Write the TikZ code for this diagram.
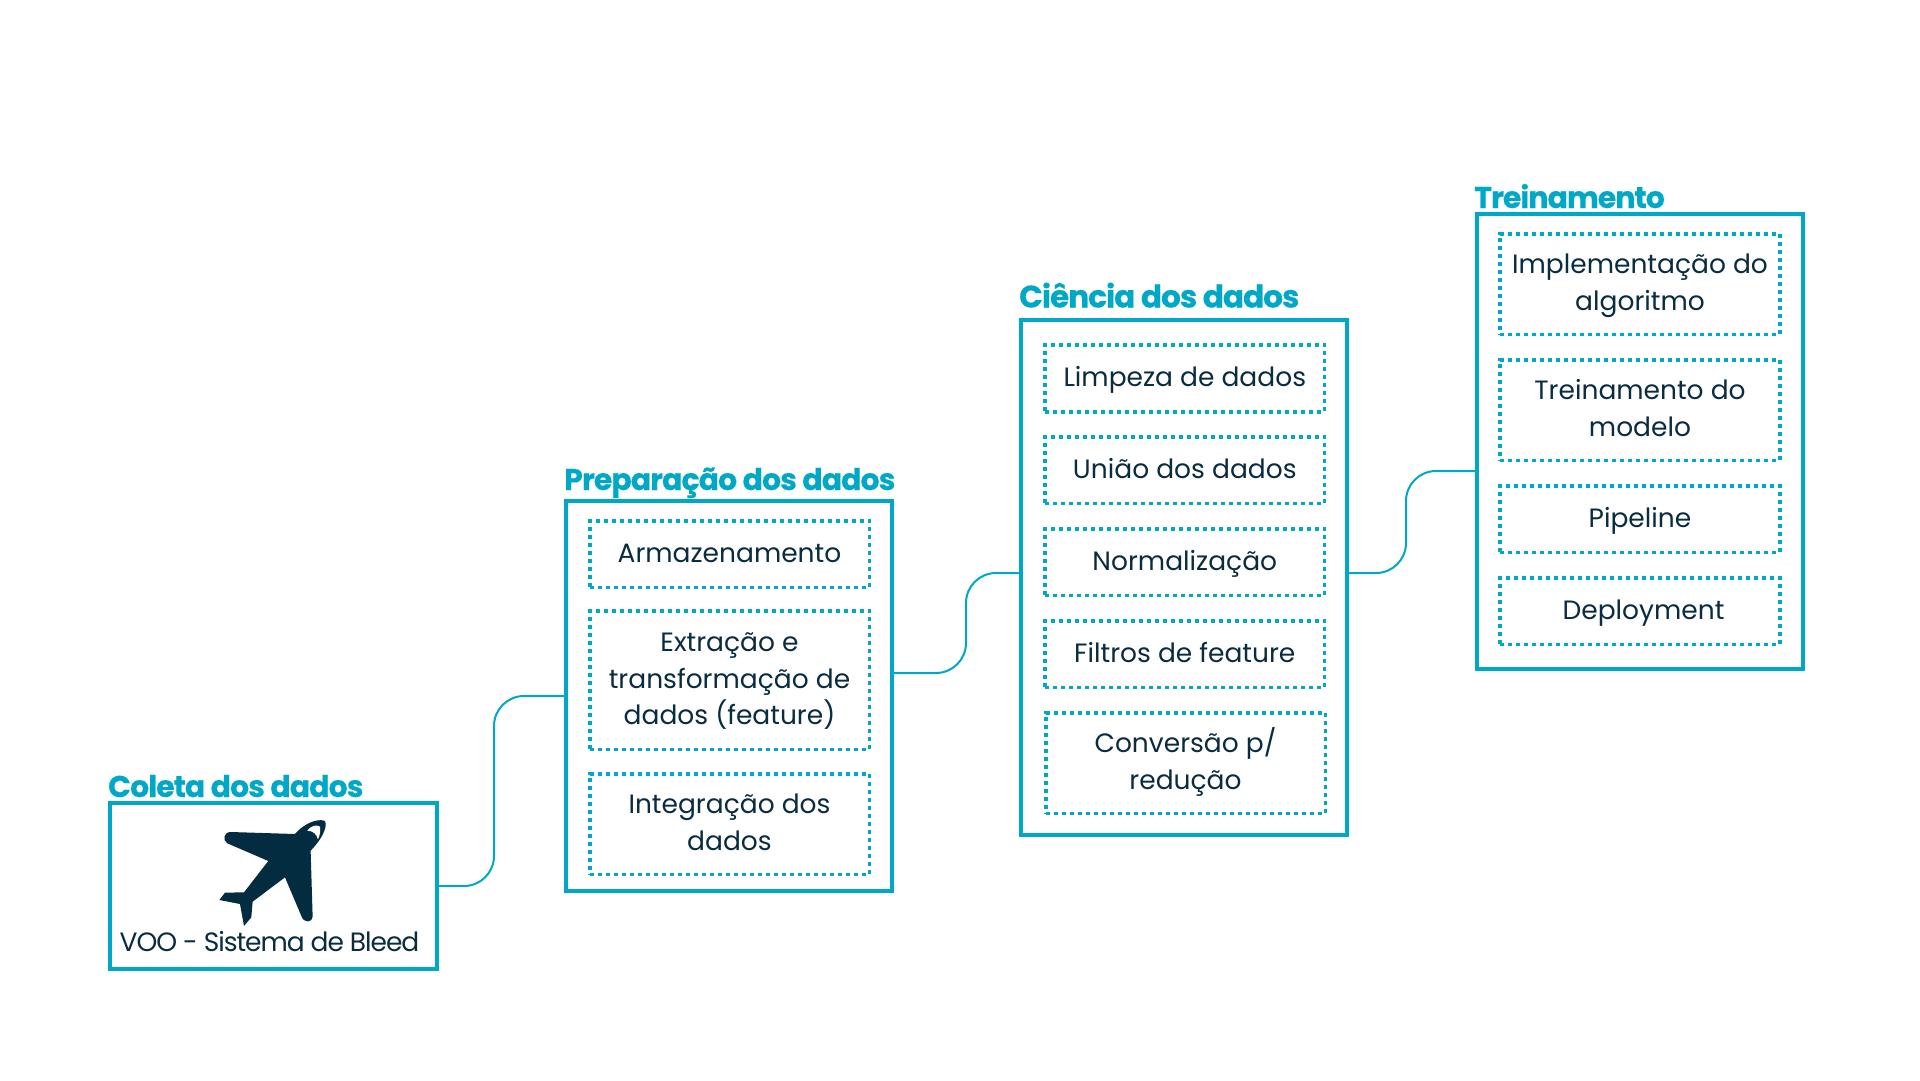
\documentclass[tikz,border=0pt]{standalone}
\usepackage{fontspec}
\setmainfont{Poppins}
\newfontfamily\titlefont[LetterSpace=-3.2,FakeBold=0.25]{Poppins Bold}
\newfontfamily\tightfont[LetterSpace=-4]{Poppins}
\newcommand{\ls}{\rule[-10.35pt]{0pt}{36.7pt}}
\definecolor{teal1}{HTML}{00A8C8}
\definecolor{ink}{HTML}{0A2C40}
\definecolor{planeink}{HTML}{042C40}
\tikzset{
  x=1pt,y=-1pt,
  frame/.style={draw=teal1,line width=4pt,fill=white,inner sep=0pt},
  inbox/.style={draw=teal1,line width=3.6pt,dash pattern=on 4pt off 4pt,inner sep=0pt,
    minimum width=279.6pt,align=center,text=ink,font=\fontsize{26.5}{36.7}\selectfont},
  grouptitle/.style={anchor=base west,inner sep=0pt,text=teal1,font=\titlefont\fontsize{30}{36}\selectfont},
  conn/.style={draw=teal1,line width=2pt,rounded corners=30pt},
}
\begin{document}
\begin{tikzpicture}
\useasboundingbox (0,0) rectangle (1920,1080);
\fill[white] (0,0) rectangle (1920,1080);
% frames
\node[frame,minimum width=327pt,minimum height=166pt] (b1) at (273.5,886) {};
\node[frame,minimum width=326pt,minimum height=390.5pt] (b2) at (729,696) {};
\node[frame,minimum width=326pt,minimum height=515pt] (b3) at (1184,577.5) {};
\node[frame,minimum width=326pt,minimum height=455pt] (b4) at (1639.5,441.5) {};
% titles
\node[grouptitle] (t1) at (108,797) {Coleta dos dados};
\node[grouptitle] (t2) at (564,490) {Preparação dos dados};
\node[grouptitle,font=\titlefont\fontsize{31.1}{36}\selectfont] (t3) at (1019,307.5) {Ciência dos dados};
\node[grouptitle] (t4) at (1474,208) {Treinamento};
% inner boxes, column 2
\node[inbox,minimum height=66.6pt] (a1) at (729.5,554) {\ls Armazenamento};
\node[inbox,minimum height=138.6pt] (a2) at (729.5,680) {\ls Extração e\\\ls transformação de\\\ls dados (feature)};
\node[inbox,minimum height=100.6pt] (a3) at (729.5,824) {\ls Integração dos\\\ls dados};
% column 3
\node[inbox,minimum height=66.6pt] (c1) at (1184.8,378.5) {\ls Limpeza de dados};
\node[inbox,minimum height=66.6pt] (c2) at (1184.8,470) {\ls União dos dados};
\node[inbox,minimum height=66.6pt] (c3) at (1184.8,562) {\ls Normalização};
\node[inbox,minimum height=66.6pt] (c4) at (1184.8,654) {\ls Filtros de feature};
\node[inbox,minimum height=100.6pt] (c5) at (1185.5,763) {\ls Conversão p/\\\ls redução};
% column 4
\node[inbox,minimum height=100.6pt] (d1) at (1640,284) {\ls Implementação do\\\ls algoritmo};
\node[inbox,minimum height=100.6pt] (d2) at (1640,410) {\ls Treinamento do\\\ls modelo};
\node[inbox,minimum height=66.6pt] (d3) at (1640,519) {\ls Pipeline};
\node[inbox,minimum height=66.6pt] (d4) at (1640,611) {\hspace*{7pt}\ls Deployment};
% connectors
\coordinate (p2o) at (894,673);
\coordinate (p3i) at (1019,573);
\coordinate (p3o) at (1349,573);
\coordinate (p4i) at (1475,471);
\draw[conn] (b1.east) -- (494,886) -- (494,696) -- (b2.west);
\draw[conn] (p2o) -- (966,673) -- (966,573) -- (p3i);
\draw[conn] (p3o) -- (1406,573) -- (1406,471) -- (p4i);
% aeroplane
\begin{scope}[shift={(90,760)},x=0.3333pt,y=-0.3333pt]
\fill[planeink] (615,222) .. controls (640,192) and (680,175) .. (703,182)
  .. controls (714,190) and (705,228) .. (662,272)
  -- (668,470) .. controls (668,488) and (642,490) .. (635,470)
  -- (585,352) -- (488,425) -- (484,472) -- (462,498) -- (450,432) -- (388,420)
  -- (405,398) -- (462,397) -- (535,303) -- (412,250)
  .. controls (396,240) and (402,216) .. (422,216) -- cycle;
\fill[white] (652,212) .. controls (662,198) and (680,192) .. (690,200)
  .. controls (692,212) and (690,226) .. (684,238)
  .. controls (680,222) and (668,212) .. (652,212) -- cycle;
\end{scope}
\node[inner sep=0pt,anchor=base,text=ink,font=\tightfont\fontsize{26.5}{33}\selectfont] (lbl) at (269.5,951) {VOO - Sistema de Bleed};
\end{tikzpicture}
\end{document}
